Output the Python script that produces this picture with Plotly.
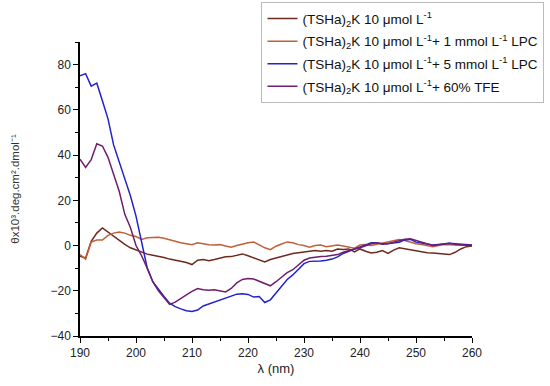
import plotly.graph_objects as go

wavelength = list(range(190, 261))

tsha_only = [-4.7, -5.5, 1.9, 5.5, 7.8, 6, 4, 2, 0.5, -1,
             -2, -3, -3.8, -4.3, -4.7, -5.3, -6, -6.5, -6.8, -7.5,
             -8.4, -6.5, -6.2, -6.7, -6.2, -5.5, -5, -4.9, -4.2, -3.7,
             -4.5, -5.5, -6.5, -7.3, -6.2, -5.5, -4.8, -4.3, -3.5, -3.2,
             -2.8, -2.5, -2.2, -2.5, -2.2, -2.5, -1.5, -1.8, -1.5, -2.8,
             -1.5, -2.5, -3.3, -3, -2.2, -3.5, -2, -1, -1.5, -2,
             -2.5, -3, -3.2, -3.3, -3.5, -3.8, -4, -3, -1.5, -0.5,
             -0.2]

lpc_1mm = [-4, -6, 1.5, 2.4, 2.4, 4.5, 5.5, 6, 5.5, 4.5,
           4, 2.7, 3.4, 3.6, 3.7, 3.2, 2.5, 1.8, 1.2, 0.8,
           0.4, 1.2, 0.6, 0.3, 0.2, 0.4, -0.2, -0.7, 0, 0.7,
           1.2, 1.6, 0.2, -1, -1.8, -0.3, 0.7, 1.6, 1.2, 0.4,
           0, -0.7, 0, 0.2, -0.5, 0, 0.2, -0.2, -0.7, -1.2,
           0.2, 0.5, 0, 0.5, 1, 1.5, 2, 2.7, 2.2, 1.5,
           0.8, 0.5, 0, -0.5, 0, 0.5, 0.3, 0.2, 0, -0.2,
           0]

lpc_5mm = [75, 76, 70.5, 71.8, 64, 56, 44.5, 37, 30, 22,
           13, 2, -9.9, -16, -19.5, -22.5, -25.5, -27, -28, -28.8,
           -29.2, -28.5, -26.7, -25.8, -25, -24, -23.2, -22.5, -21.5, -21.3,
           -21.6, -22.8, -22.5, -25.2, -24, -21, -18, -15, -13, -10.5,
           -8, -7, -7, -6.8, -6.5, -6, -5, -3.5, -2.5, -1.5,
           -0.4, 0.3, 1.2, 1.2, 0.6, 0.8, 1, 1.5, 2.5, 2.7,
           1.5, 1, 0.8, 0.2, 0.5, 0.8, 1, 0.8, 0.5, 0.3,
           0.2]

tfe_60 = [38.2, 34.5, 38, 45, 44, 39, 31.5, 24, 13.8, 8,
          0, -4.5, -10, -16, -20, -22.8, -26, -25, -23.3, -21.8,
          -20.3, -19, -19.5, -19.8, -19.6, -20, -20.5, -19, -16.5, -15,
          -14.6, -14.8, -15.8, -17, -17.8, -16, -13.8, -12, -10.7, -8.5,
          -6.5, -5.5, -5, -4.8, -4.7, -4.5, -4, -3, -2.2, -1.5,
          -1, 0, 0.8, 1.2, 0.8, 0.8, 1.5, 2.2, 2.8, 3,
          2.2, 1.5, 0.8, 0, 0.3, 0.8, 1, 0.5, 0.3, 0.2,
          0]

names = [
    "(TSHa)<sub>2</sub>K 10 \u03bcmol L<sup>-1</sup>",
    "(TSHa)<sub>2</sub>K 10 \u03bcmol L<sup>-1</sup>+ 1 mmol L<sup>-1</sup> LPC",
    "(TSHa)<sub>2</sub>K 10 \u03bcmol L<sup>-1</sup>+ 5 mmol L<sup>-1</sup> LPC",
    "(TSHa)<sub>2</sub>K 10 \u03bcmol L<sup>-1</sup>+ 60% TFE",
]
series = [tsha_only, lpc_1mm, lpc_5mm, tfe_60]
colors = ["#6e2a1e", "#c0603a", "#2323cc", "#6e1e6e"]

fig = go.Figure()
for i, (nm, ys, c) in enumerate(zip(names, series, colors)):
    fig.add_trace(go.Scatter(x=wavelength, y=ys, mode="lines", name=nm,
                             legendgroup=str(i),
                             line=dict(color=c, width=1.5)))

axis_font = dict(family="Liberation Sans, Arial, sans-serif", size=12, color="#222")

fig.update_layout(
    width=550, height=386,
    margin=dict(l=80, r=78, t=42, b=50, autoexpand=False),
    paper_bgcolor="white", plot_bgcolor="white",
    font=axis_font,
    showlegend=True,
    legend=dict(x=0.463, y=1.135, xanchor="left", yanchor="top",
                bgcolor="white", bordercolor="#bbb", borderwidth=1,
                font=dict(family="Liberation Sans, Arial, sans-serif", size=13.5, color="#111"),
                tracegroupgap=2, itemwidth=30),
    xaxis=dict(range=[190, 260], tickvals=[190, 200, 210, 220, 230, 240, 250, 260],
               ticks="outside", ticklen=5, tickwidth=1.2, tickcolor="black",
               showline=True, linecolor="black", linewidth=1.5, showgrid=False,
               zeroline=False, automargin=True,
               minor=dict(dtick=5, tick0=190, ticks="outside", ticklen=3, tickcolor="black"),
               title=dict(text="\u03bb (nm)", standoff=5, font=dict(size=13))),
    yaxis=dict(range=[-40, 90], tickvals=[-40, -20, 0, 20, 40, 60, 80],
               ticks="outside", ticklen=5, tickwidth=1.2, tickcolor="black",
               showline=True, linecolor="black", linewidth=1.5, showgrid=False,
               zeroline=False, automargin=True,
               minor=dict(dtick=10, tick0=0, ticks="outside", ticklen=3, tickcolor="black"),
               title=dict(text="\u03b8x10\u00b3.deg.cm\u00b2.dmol\u207b\u00b9", standoff=28,
                          font=dict(size=11.5, color="#333"))),
)

fig.write_html("out.html", config={"displayModeBar": False},
               post_script="document.body.style.margin='0';document.body.style.padding='0';")
